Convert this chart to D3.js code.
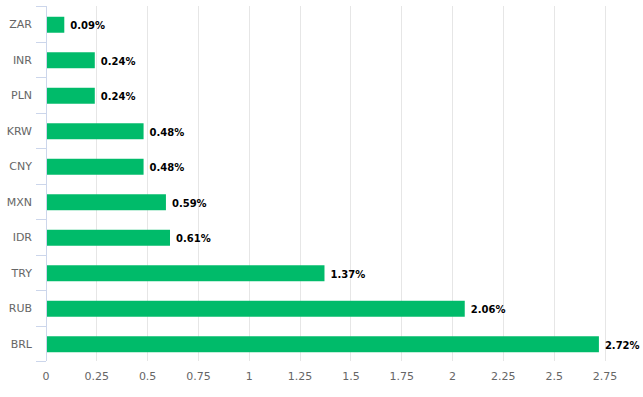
<!DOCTYPE html>
<html><head><meta charset="utf-8">
<script src="https://cdn.jsdelivr.net/npm/d3@7"></script>
<style>html,body{margin:0;padding:0;background:#fff;}svg{display:block;font-family:"DejaVu Sans",Verdana,sans-serif;}</style>
</head><body>
<svg id="chart" width="643" height="397"></svg>
<script>
const categories = ["ZAR","INR","PLN","KRW","CNY","MXN","IDR","TRY","RUB","BRL"];
const values = [0.09,0.24,0.24,0.48,0.48,0.59,0.61,1.37,2.06,2.72];
const xTicks = [0,0.25,0.5,0.75,1,1.25,1.5,1.75,2,2.25,2.5,2.75];
const xTickLabels = ["0","0.25","0.5","0.75","1","1.25","1.5","1.75","2","2.25","2.5","2.75"];

(function(){
const svg = d3.select("#chart");
const mLeft = 46, mTop = 6, mBottom = 361;
const x = d3.scaleLinear().domain([0,2.75]).range([mLeft,605]);
const y = d3.scaleBand().domain(categories).range([mTop,mBottom]).paddingInner(0.55).paddingOuter(0.275);
const yb = d3.scaleBand().domain(categories).range([mTop,mBottom]);

svg.append("g").selectAll("line").data(xTicks.slice(1)).join("line")
  .attr("x1",d=>Math.floor(x(d))+0.5).attr("x2",d=>Math.floor(x(d))+0.5)
  .attr("y1",mTop).attr("y2",mBottom)
  .attr("stroke","#e6e6e6").attr("stroke-width",1);

svg.append("line").attr("x1",mLeft+0.5).attr("x2",mLeft+0.5).attr("y1",mTop).attr("y2",mBottom)
  .attr("stroke","#ccd6eb");
const bounds = categories.map(c=>yb(c)).concat([mBottom]);
svg.append("g").selectAll("line").data(bounds).join("line")
  .attr("x1",36).attr("x2",mLeft).attr("y1",d=>Math.round(d)+0.5).attr("y2",d=>Math.round(d)+0.5)
  .attr("stroke","#ccd6eb");

svg.append("g").selectAll("text").data(categories).join("text")
  .attr("x",32).attr("y",c=>yb(c)+yb.bandwidth()/2+1.5)
  .attr("text-anchor","end").attr("dominant-baseline","middle")
  .attr("font-size","11px").attr("fill","#666").text(c=>c);

svg.append("g").selectAll("rect").data(values).join("rect")
  .attr("x",x(0)+1).attr("y",(d,i)=>y(categories[i])+1)
  .attr("width",d=>x(d)-x(0)-1).attr("height",y.bandwidth())
  .attr("fill","#00bb6a");

svg.append("g").selectAll("text").data(values).join("text")
  .attr("x",d=>x(d)+6).attr("y",(d,i)=>y(categories[i])+1+y.bandwidth()/2+1.5)
  .attr("dominant-baseline","middle").attr("font-size","10px").attr("font-weight","bold")
  .attr("fill","#000").text(d=>d.toFixed(2)+"%");

svg.append("g").selectAll("text").data(xTicks).join("text")
  .attr("x",d=>x(d)).attr("y",380).attr("text-anchor","middle")
  .attr("font-size","11px").attr("fill","#666").text((d,i)=>xTickLabels[i]);
})();
</script>
</body></html>
